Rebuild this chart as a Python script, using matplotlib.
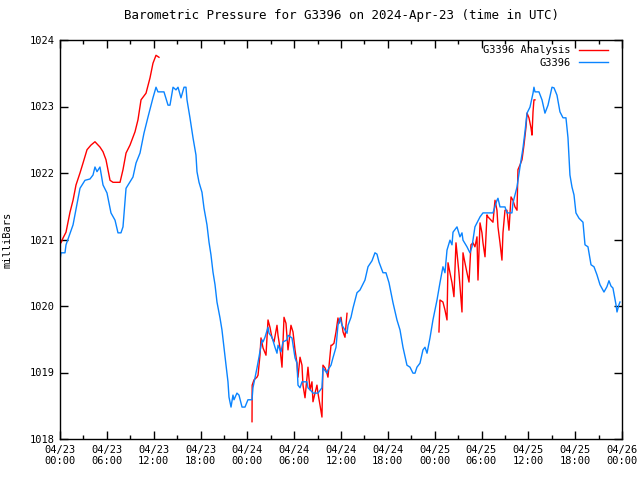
import matplotlib
matplotlib.use('Agg')
import matplotlib.pyplot as plt
from matplotlib.ticker import MultipleLocator

# hours since 2024-04-23 00:00 UTC, pressure in mbar
station_hours = [
    0.00, 0.13, 0.64, 0.77, 1.67, 2.56, 3.20, 3.84, 4.23, 4.48, 4.74, 5.12, 5.51, 6.02,
    6.53, 7.05, 7.43, 7.81, 8.07, 8.46, 9.35, 9.74, 10.25, 10.76, 11.27, 11.91, 12.30,
    12.55, 13.32, 13.84, 14.09, 14.48, 14.86, 15.12, 15.50, 15.89, 16.14, 16.27, 16.65,
    17.04, 17.42, 17.55, 17.81, 18.19, 18.45, 18.83, 19.09, 19.34, 19.60, 19.86, 20.11,
    20.50, 20.75, 21.01, 21.27, 21.52, 21.65, 21.91, 22.16, 22.29, 22.67, 22.93, 23.32,
    23.70, 24.08, 24.60, 24.72, 25.24, 25.49, 25.88, 26.01, 26.26, 26.65, 26.78, 27.16,
    27.54, 27.80, 27.93, 28.31, 28.57, 29.08, 29.21, 29.72, 30.11, 30.36, 30.49, 30.75,
    31.00, 31.64, 31.77, 32.28, 32.41, 33.05, 33.56, 33.69, 34.20, 34.33, 34.72, 34.97,
    35.36, 35.61, 35.87, 36.13, 36.51, 36.77, 36.90, 37.28, 37.54, 38.05, 38.43, 39.07,
    39.46, 39.97, 40.35, 40.61, 40.87, 41.38, 41.76, 42.15, 42.66, 43.17, 43.56, 43.94,
    44.45, 44.84, 45.22, 45.48, 45.73, 46.12, 46.50, 46.76, 47.02, 47.40, 47.78, 48.30,
    48.68, 49.06, 49.32, 49.58, 49.96, 50.22, 50.35, 50.86, 51.24, 51.50, 51.63, 52.14,
    52.52, 52.78, 53.16, 53.81, 54.19, 55.47, 55.98, 56.11, 56.37, 57.01, 57.26, 57.90,
    58.03, 58.55, 58.93, 59.32, 59.57, 59.83, 60.21, 60.60, 60.72, 60.85, 61.36, 61.75,
    62.13, 62.52, 63.03, 63.29, 63.67, 64.05, 64.44, 64.82, 65.08, 65.33, 65.59, 65.85,
    66.10, 66.49, 67.00, 67.26, 67.64, 68.03, 68.41, 68.79, 69.18, 69.69, 70.07, 70.33,
    70.59, 70.84, 71.23, 71.36, 71.61, 71.74,
]
station_mbar = [
    1020.69, 1020.80, 1020.80, 1020.92, 1021.22, 1021.77, 1021.89, 1021.91, 1021.97, 1022.09,
    1022.02, 1022.09, 1021.82, 1021.70, 1021.40, 1021.29, 1021.10, 1021.10, 1021.19, 1021.77,
    1021.94, 1022.15, 1022.30, 1022.60, 1022.84, 1023.13, 1023.29, 1023.22, 1023.22, 1023.02,
    1023.02, 1023.29, 1023.25, 1023.29, 1023.13, 1023.29, 1023.29, 1023.10, 1022.83, 1022.53,
    1022.27, 1022.02, 1021.86, 1021.71, 1021.47, 1021.22, 1020.96, 1020.77, 1020.51, 1020.32,
    1020.06, 1019.82, 1019.64, 1019.37, 1019.11, 1018.86, 1018.63, 1018.48, 1018.66, 1018.59,
    1018.69, 1018.66, 1018.48, 1018.48, 1018.59, 1018.59, 1018.77, 1019.07, 1019.23, 1019.49,
    1019.46, 1019.53, 1019.68, 1019.59, 1019.53, 1019.38, 1019.29, 1019.41, 1019.31, 1019.46,
    1019.49, 1019.56, 1019.52, 1019.22, 1019.14, 1018.81, 1018.77, 1018.86, 1018.86, 1018.77,
    1018.71, 1018.69, 1018.69, 1018.77, 1019.07, 1018.99, 1019.04, 1019.11, 1019.22, 1019.38,
    1019.71, 1019.82, 1019.71, 1019.64, 1019.59, 1019.71, 1019.83, 1019.97, 1020.20, 1020.24,
    1020.39, 1020.59, 1020.68, 1020.80, 1020.78, 1020.66, 1020.50, 1020.50, 1020.35, 1020.05,
    1019.79, 1019.64, 1019.38, 1019.11, 1019.08, 1018.99, 1018.99, 1019.08, 1019.14, 1019.34,
    1019.38, 1019.29, 1019.52, 1019.79, 1020.09, 1020.35, 1020.59, 1020.50, 1020.84, 1020.99,
    1020.92, 1021.11, 1021.19, 1021.04, 1021.10, 1020.99, 1020.89, 1020.80, 1020.89, 1021.19,
    1021.34, 1021.40, 1021.40, 1021.59, 1021.62, 1021.49, 1021.49, 1021.40, 1021.40, 1021.55,
    1021.79, 1022.09, 1022.38, 1022.62, 1022.90, 1022.99, 1023.20, 1023.29, 1023.22, 1023.22,
    1023.10, 1022.90, 1023.02, 1023.29, 1023.28, 1023.17, 1022.92, 1022.83, 1022.83, 1022.53,
    1021.97, 1021.79, 1021.67, 1021.40, 1021.32, 1021.26, 1020.92, 1020.89, 1020.62, 1020.59,
    1020.47, 1020.32, 1020.21, 1020.29, 1020.38, 1020.30, 1020.27, 1020.02, 1019.91, 1020.02,
    1020.06,
]

# analysis comes in three separate runs
analysis_hours_1 = [
    0.00, 0.13, 0.38, 0.77, 1.28, 1.67, 2.05, 2.56, 2.95, 3.46, 3.97, 4.48, 5.12, 5.51,
    5.89, 6.41, 6.79, 7.17, 7.69, 8.07, 8.46, 8.97, 9.61, 9.99, 10.38, 11.02, 11.53,
    11.91, 12.30, 12.68,
]
analysis_mbar_1 = [
    1020.99, 1020.95, 1021.02, 1021.11, 1021.41, 1021.59, 1021.82, 1022.00, 1022.15, 1022.35,
    1022.42, 1022.47, 1022.39, 1022.32, 1022.20, 1021.89, 1021.86, 1021.86, 1021.86, 1022.05,
    1022.30, 1022.42, 1022.62, 1022.80, 1023.10, 1023.20, 1023.43, 1023.65, 1023.77, 1023.74,
]
analysis_hours_2 = [
    24.60, 24.62, 24.86, 25.24, 25.37, 25.62, 25.75, 26.01, 26.39, 26.65, 26.90, 27.16,
    27.42, 27.80, 27.93, 28.18, 28.44, 28.70, 28.95, 29.21, 29.34, 29.59, 29.85, 30.11,
    30.36, 30.49, 30.75, 31.00, 31.13, 31.39, 31.64, 31.77, 32.03, 32.28, 32.41, 32.67,
    32.92, 33.05, 33.31, 33.56, 33.69, 33.95, 34.20, 34.33, 34.72, 34.84, 35.10, 35.36,
    35.61, 35.74, 36.00, 36.26, 36.51, 36.77,
]
analysis_mbar_2 = [
    1018.26, 1018.81, 1018.89, 1018.93, 1018.96, 1019.26, 1019.52, 1019.37, 1019.26, 1019.79,
    1019.68, 1019.52, 1019.46, 1019.71, 1019.56, 1019.37, 1019.08, 1019.83, 1019.74, 1019.34,
    1019.46, 1019.71, 1019.61, 1019.34, 1019.14, 1018.93, 1019.23, 1019.11, 1018.81, 1018.62,
    1018.92, 1019.08, 1018.74, 1018.86, 1018.56, 1018.69, 1018.81, 1018.69, 1018.51, 1018.33,
    1019.11, 1019.07, 1018.99, 1018.93, 1019.41, 1019.41, 1019.44, 1019.61, 1019.82, 1019.74,
    1019.83, 1019.61, 1019.53, 1019.89,
]
analysis_hours_3 = [
    48.55, 48.68, 49.06, 49.32, 49.58, 49.71, 49.96, 50.22, 50.47, 50.73, 50.86, 51.11,
    51.50, 51.63, 51.88, 52.14, 52.40, 52.65, 52.91, 53.16, 53.42, 53.55, 53.81, 54.06,
    54.19, 54.45, 54.70, 54.83, 55.47, 55.73, 55.98, 56.11, 56.37, 56.62, 56.75, 57.01,
    57.26, 57.52, 57.78, 58.03, 58.29, 58.55, 58.67, 58.93, 59.19, 59.44, 59.70, 59.83,
    60.08, 60.34, 60.47, 60.60, 60.72, 60.85,
]
analysis_mbar_3 = [
    1019.61, 1020.09, 1020.06, 1019.94, 1019.79, 1020.65, 1020.50, 1020.35, 1020.14, 1020.95,
    1020.80, 1020.50, 1019.91, 1020.80, 1020.65, 1020.50, 1020.36, 1020.92, 1020.95, 1020.89,
    1021.04, 1020.39, 1021.25, 1021.10, 1020.95, 1020.74, 1021.37, 1021.34, 1021.26, 1021.59,
    1021.44, 1021.19, 1020.95, 1020.69, 1021.10, 1021.44, 1021.44, 1021.14, 1021.64, 1021.59,
    1021.49, 1021.44, 1022.05, 1022.12, 1022.20, 1022.42, 1022.69, 1022.90, 1022.83, 1022.68,
    1022.57, 1022.92, 1023.10, 1023.10,
]

tick_labels = ['04/23\n00:00', '04/23\n06:00', '04/23\n12:00', '04/23\n18:00',
               '04/24\n00:00', '04/24\n06:00', '04/24\n12:00', '04/24\n18:00',
               '04/25\n00:00', '04/25\n06:00', '04/25\n12:00', '04/25\n18:00',
               '04/26\n00:00']

plt.rcParams['font.family'] = ['DejaVu Sans Mono']
plt.rcParams['font.size'] = 7.5

fig = plt.figure(figsize=(6.4, 4.8), dpi=100)
ax = fig.add_axes([60 / 640, 41 / 480, 562 / 640, 399 / 480])

red = '#ff0000'
blue = '#0a84ff'
ax.plot(analysis_hours_1, analysis_mbar_1, color=red, lw=1, label='G3396 Analysis')
ax.plot(analysis_hours_2, analysis_mbar_2, color=red, lw=1)
ax.plot(analysis_hours_3, analysis_mbar_3, color=red, lw=1)
ax.plot(station_hours, station_mbar, color=blue, lw=1, label='G3396')

ax.set_xlim(0, 72)
ax.set_ylim(1018, 1024)
ax.set_xticks(range(0, 73, 6))
ax.set_xticklabels(tick_labels)
ax.xaxis.set_minor_locator(MultipleLocator(3))
ax.set_yticks(range(1018, 1025))
ax.tick_params(which='both', direction='in', top=True, right=True, width=1)
ax.tick_params(which='major', length=6, pad=4)
ax.tick_params(which='minor', length=3)
for s in ax.spines.values():
    s.set_linewidth(1)

ax.set_ylabel('milliBars', labelpad=12)
ax.set_title('Barometric Pressure for G3396 on 2024-Apr-23 (time in UTC)', pad=15)
ax.legend(loc='upper right', bbox_to_anchor=(1 - 9 / 562, 1), frameon=False,
          markerfirst=False, handlelength=2.8, borderaxespad=0.1,
          labelspacing=0.25, handletextpad=0.8)

fig.savefig('out.png')
